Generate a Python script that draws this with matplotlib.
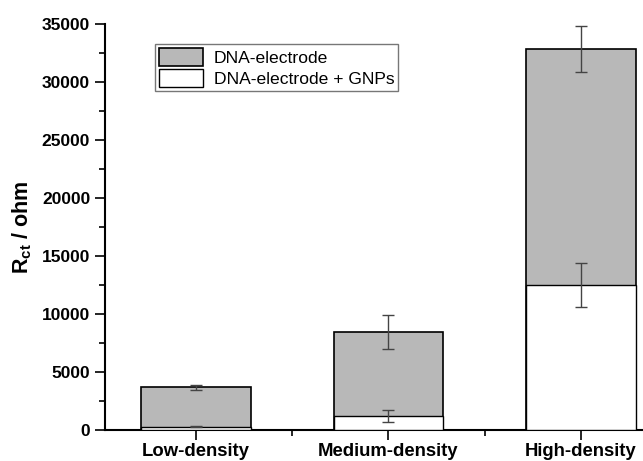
import numpy as np
import matplotlib.pyplot as plt
from matplotlib.ticker import MultipleLocator

plt.rcParams['font.family'] = ['Liberation Sans', 'DejaVu Sans']
plt.rcParams['mathtext.fontset'] = 'custom'
plt.rcParams['mathtext.rm'] = 'Liberation Sans'
plt.rcParams['mathtext.bf'] = 'Liberation Sans:bold'

categories = ['Low-density', 'Medium-density', 'High-density']
dna = [3700, 8450, 32850]
dna_err = [230, 1450, 2000]
gnp = [300, 1200, 12500]
gnp_err = [40, 520, 1900]

x = np.arange(1, len(categories) + 1)
w = 0.57

fig = plt.figure(figsize=(6.43, 4.61), dpi=100)
ax = fig.add_axes([0.163, 0.067, 0.837, 0.881])

ax.bar(x, dna, w, color='#b8b8b8', edgecolor='black', linewidth=1.2, label='DNA-electrode', zorder=2)
ax.bar(x, gnp, w, color='white', edgecolor='black', linewidth=1.0, label='DNA-electrode + GNPs', zorder=3)
ax.errorbar(x, dna, yerr=dna_err, fmt='none', ecolor='#444444', elinewidth=1, capsize=4, capthick=1, zorder=4)
ax.errorbar(x, gnp, yerr=gnp_err, fmt='none', ecolor='#444444', elinewidth=1, capsize=4, capthick=1, zorder=4)

ax.set_xlim(0.527, 3.322)
ax.set_ylim(0, 35000)
ax.set_xticks(x)
ax.set_xticklabels(categories, fontweight='bold', fontsize=13.3)
ax.xaxis.set_minor_locator(MultipleLocator(0.5))
ax.yaxis.set_major_locator(MultipleLocator(5000))
ax.yaxis.set_minor_locator(MultipleLocator(2500))
for lab in ax.get_yticklabels():
    lab.set_fontweight('bold')
    lab.set_fontsize(12.5)
ax.tick_params(which='major', direction='out', length=7, width=1.2)
ax.tick_params(which='minor', direction='out', length=4, width=1.2)
ax.tick_params(axis='x', which='major', pad=2)

ax.spines['top'].set_visible(False)
ax.spines['right'].set_visible(False)
ax.spines['left'].set_linewidth(1.5)
ax.spines['bottom'].set_linewidth(1.5)

ax.set_ylabel(r'R$_{\mathbf{ct}}$ / ohm', fontweight='bold', fontsize=15.5, labelpad=6)

leg = ax.legend(loc='upper left', bbox_to_anchor=(0.093, 0.951), fancybox=False, fontsize=12.6,
                edgecolor='#555555', handlelength=2.5, handleheight=1.2, labelspacing=0.17,
                borderpad=0.23, handletextpad=0.63, borderaxespad=0)
leg.get_frame().set_linewidth(1)

fig.savefig('out.png', dpi=100)
